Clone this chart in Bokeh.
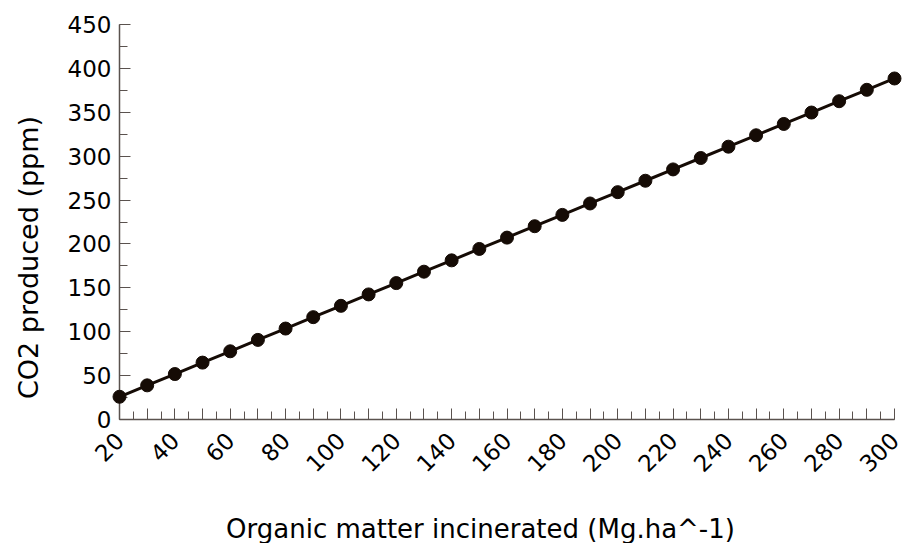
from math import pi
from bokeh.plotting import figure
from bokeh.models import Range1d, FixedTicker
from bokeh.core.properties import value
from bokeh.embed import file_html
from bokeh.resources import INLINE

# Data
organic_matter = [20, 30, 40, 50, 60, 70, 80, 90, 100, 110, 120, 130, 140, 150,
                  160, 170, 180, 190, 200, 210, 220, 230, 240, 250, 260, 270,
                  280, 290, 300]
co2_ppm = [25.9, 38.9, 51.8, 64.8, 77.7, 90.7, 103.6, 116.6, 129.5, 142.5,
           155.4, 168.4, 181.3, 194.3, 207.2, 220.2, 233.1, 246.1, 259.0,
           272.0, 284.9, 297.9, 310.8, 323.8, 336.7, 349.7, 362.6, 375.6, 388.5]
x_major_ticks = list(range(20, 301, 10))
x_minor_ticks = list(range(20, 301, 5))
x_tick_labels = {t: (str(t) if t % 20 == 0 else "") for t in x_major_ticks}
y_major_ticks = list(range(0, 451, 50))
y_minor_ticks = list(range(0, 451, 25))
x_title = "Organic matter incinerated (Mg.ha^-1)"
y_title = "CO2 produced (ppm)"
x_min, x_max = 20, 300
y_min, y_max = 0, 450

FONT = "DejaVu Sans"
INK = "#150b05"
AXIS = "#5a524e"

p = figure(width=904, height=543, output_backend="svg", toolbar_location=None,
           x_range=Range1d(x_min, x_max), y_range=Range1d(y_min, y_max),
           min_border_left=119, min_border_right=10, min_border_top=24,
           min_border_bottom=124)
p.outline_line_color = None
p.grid.visible = False

ln = p.line(organic_matter, co2_ppm, line_color=INK, line_width=3)
pts = p.scatter(organic_matter, co2_ppm, size=13, fill_color=INK, line_color=INK)
ln.level = "overlay"
pts.level = "overlay"

xa = p.xaxis[0]
xa.ticker = FixedTicker(ticks=x_major_ticks, minor_ticks=x_minor_ticks)
xa.major_label_overrides = x_tick_labels
xa.major_label_orientation = pi / 4

ya = p.yaxis[0]
ya.ticker = FixedTicker(ticks=y_major_ticks, minor_ticks=y_minor_ticks)

for ax in (xa, ya):
    ax.axis_line_color = AXIS
    ax.axis_line_width = 1.5
    ax.major_tick_line_color = AXIS
    ax.minor_tick_line_color = AXIS
    ax.major_tick_in = 11
    ax.major_tick_out = 0
    ax.minor_tick_in = 8
    ax.minor_tick_out = 0
    ax.major_label_text_font = FONT
    ax.major_label_text_font_size = "23px"
    ax.major_label_text_color = "black"

xa.major_label_standoff = 17
ya.major_label_standoff = 8

# axis titles: anchored at the axes' origin, shifted by pixel offsets
xt = p.text(x=[x_min], y=[y_min], text=[x_title], x_offset=361, y_offset=109,
            text_align="center", text_baseline="middle",
            text_font=value(FONT), text_font_size="26px", text_color="black")
yt = p.text(x=[x_min], y=[y_min], text=[y_title], x_offset=-91, y_offset=-162,
            angle=pi / 2, text_align="center", text_baseline="middle",
            text_font=value(FONT), text_font_size="27px", text_color="black")
xt.level = "overlay"
yt.level = "overlay"

open("out.html", "w").write(file_html(p, INLINE))
